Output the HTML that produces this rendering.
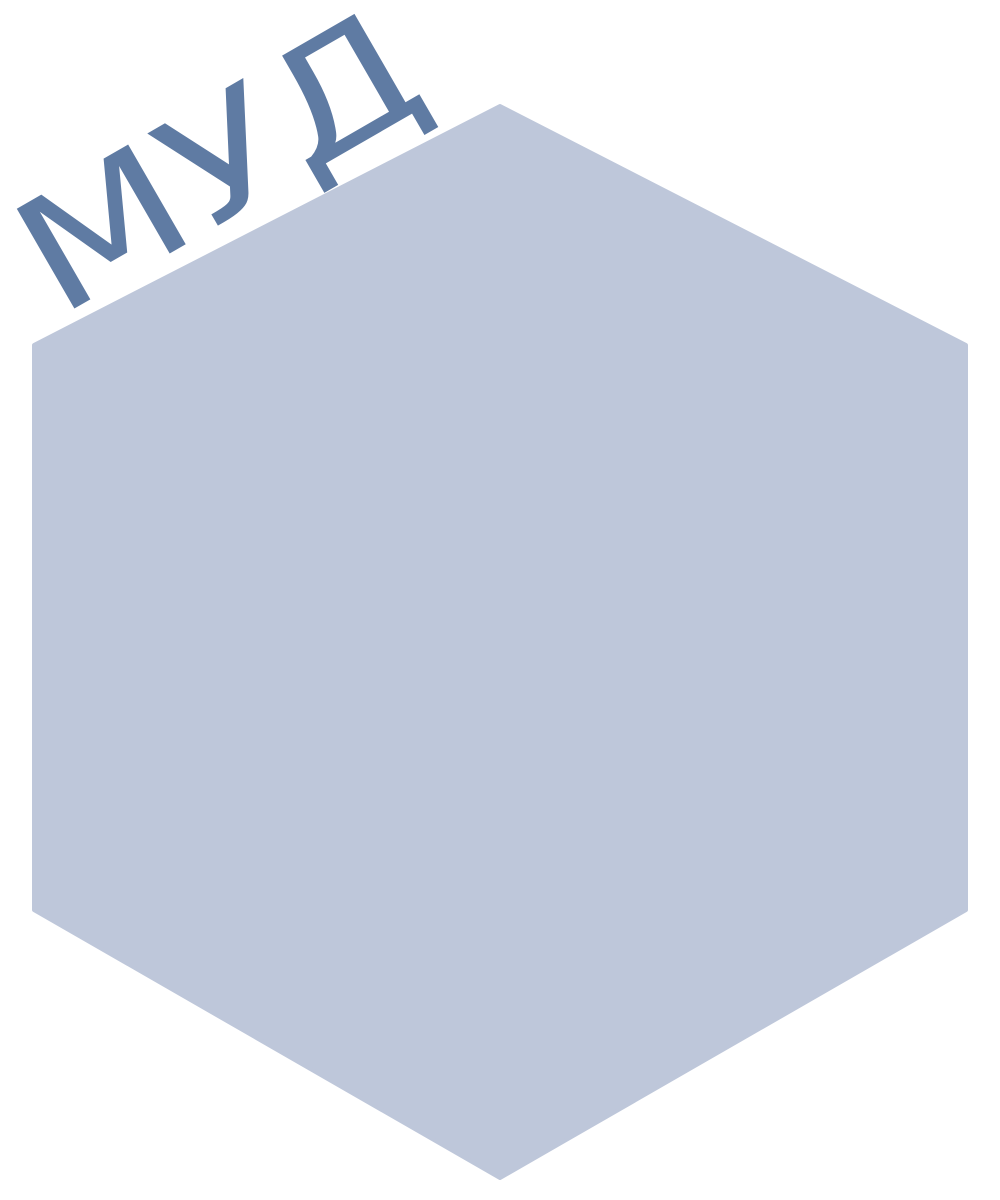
<!DOCTYPE html>
<html><head><meta charset="utf-8"><style>
html,body{margin:0;padding:0;background:#fff;}
svg{display:block;}
</style></head><body>
<svg width="1000" height="1200" viewBox="0 0 1000 1200">
  <polygon points="500,106 966,345 966,910 500,1178 34,910 34,345" fill="#bec7da" stroke="#bec7da" stroke-width="4" stroke-linejoin="round"/>
  <text x="0" y="0" transform="translate(58,318) rotate(-30) scale(1.22,1)" font-family="'DejaVu Sans','Liberation Sans',sans-serif" font-size="158" fill="#5f7ba3">МУД</text>
</svg>
</body></html>
